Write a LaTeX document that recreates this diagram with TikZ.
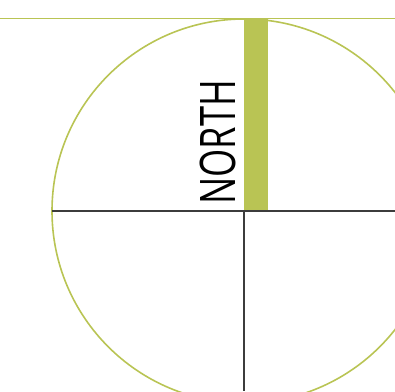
\documentclass[tikz,border=0pt]{standalone}
\usepackage{fontspec}
\setmainfont{Open Sans}
\newfontfamily\northfont[FakeStretch=0.74]{Open Sans}
\definecolor{olive}{RGB}{185,196,84}
\definecolor{axis}{RGB}{60,60,60}
\begin{document}
\begin{tikzpicture}[x=1pt,y=-1pt,
  greenline/.style={draw=olive,line width=1.6pt},
  axisline/.style={draw=axis,line width=1.2pt}]
\useasboundingbox (0,0) rectangle (395,391);
\begin{scope}
\clip (0,0) rectangle (395,391);
\draw[greenline] (244,211) circle[radius=192];
\end{scope}
\draw[greenline] (0,18.5) -- (395,18.5);
\fill[olive] (243.5,18.5) rectangle (268.3,211);
\draw[axisline] (52,211) -- (395,211);
\draw[axisline] (244,211) -- (244,391);
\node[rotate=90,anchor=south west,inner sep=0pt,font=\northfont\fontsize{49}{49}\selectfont] (north) at (236,205) {NORTH};
\end{tikzpicture}
\end{document}
